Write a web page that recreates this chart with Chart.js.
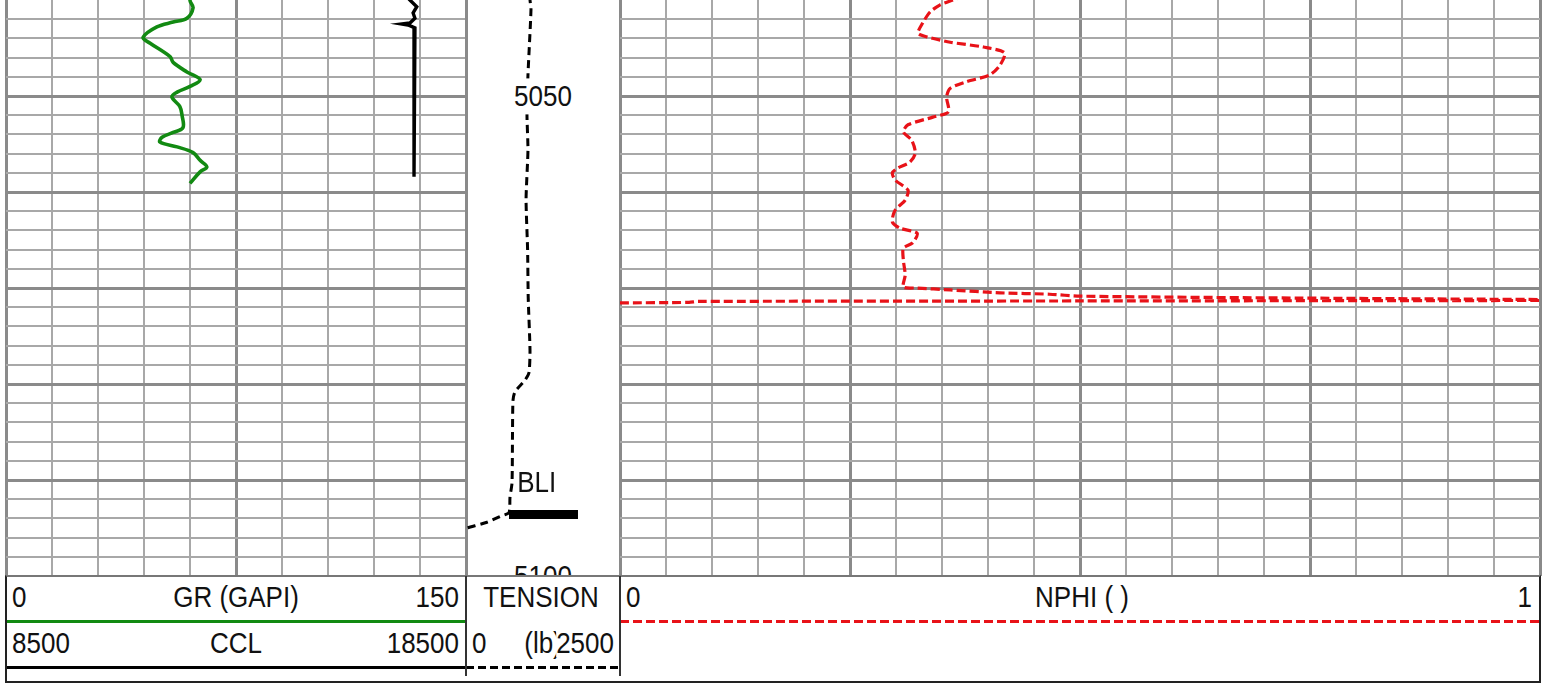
<!DOCTYPE html>
<html><head><meta charset="utf-8">
<script src="https://cdn.jsdelivr.net/npm/chart.js@4/dist/chart.umd.min.js"></script>
<style>
html,body{margin:0;padding:0;background:#fff;width:1553px;height:684px;overflow:hidden;font-family:"Liberation Sans",Arial,sans-serif;}
canvas{position:absolute;top:0;z-index:1}
.t{position:absolute;font-size:26px;line-height:26px;height:26px;white-space:nowrap;color:#111;z-index:5}
.lbl{position:absolute;font-size:26px;line-height:26px;white-space:nowrap;color:#111;z-index:2}
.box{position:absolute;left:5px;top:575px;width:1536px;height:108px;box-sizing:border-box;border:2px solid #222;border-top:2px solid #777;background:#fff;z-index:3}
.ln{position:absolute;z-index:4}
</style>
</head><body>
<canvas id="c1" width="466" height="579" style="left:3px"></canvas>
<canvas id="c2" width="160" height="579" style="left:463px"></canvas>
<canvas id="c3" width="926" height="579" style="left:617px"></canvas>
<div class="box"></div>
<script>
// ---------------- data ----------------
const depthTop = 5040, depthBottom = 5100;
const depthLabels = ['5050', '5100'];

const grDepth  = [5039.5, 5040.0, 5040.8, 5041.9, 5042.3, 5042.8, 5043.9, 5044.5, 5045.9, 5046.5, 5047.5, 5048.3, 5049.0, 5049.6, 5050.1, 5051.1, 5052.0, 5053.3, 5053.8, 5054.3, 5054.8, 5055.3, 5055.9, 5056.7, 5057.4, 5057.9, 5059.1];
const grValues = [62.0, 60.0, 61.0, 59.0, 54.5, 49.2, 44.7, 47.0, 53.5, 54.5, 59.0, 63.3, 60.0, 55.8, 54.1, 56.7, 57.4, 57.7, 54.5, 50.9, 50.2, 55.8, 61.0, 63.3, 65.5, 63.3, 60.0];

const cclDepth  = [5039.5, 5040.0, 5040.7, 5041.35, 5041.9, 5042.4, 5042.5, 5042.6, 5042.9, 5043.4, 5058.4];
const cclValues = [17350, 17280, 17430, 17350, 17390, 17280, 17110, 17240, 17390, 17370, 17370];

const tensionDepth  = [5039.5, 5040.0, 5041.0, 5047.8, 5052.0, 5055.6, 5060.8, 5066.0, 5071.0, 5076.5, 5078.8, 5079.6, 5080.8, 5081.7, 5085.0, 5090.3, 5091.8, 5093.4, 5093.8, 5094.4, 5095.0, 5095.2];
const tensionValues = [1040, 1039, 1055, 1006, 990, 1006, 975, 1000, 1010, 1039, 1023, 958, 795, 763, 755, 747, 714, 698, 552, 341, 16, -60];

const bliDepth = 5093.6;
const bliTension = [698, 1818];
const bliLabelDepth = 5090.2;
const bliLabelTension = 830;

const nphiDepth  = [5039.5, 5040.0, 5040.5, 5041.25, 5042.4, 5043.45, 5043.85, 5044.4, 5044.9, 5045.5, 5046.8, 5047.8, 5048.5, 5049.2, 5050.1, 5051.65, 5052.2, 5053.0, 5053.75, 5054.6, 5055.95, 5056.9, 5057.5, 5058.0, 5058.75, 5059.8, 5060.85, 5061.9, 5063.1, 5063.75, 5064.3, 5065.3, 5065.85, 5067.1, 5068.65, 5069.9, 5070.0, 5070.2, 5070.5, 5070.65, 5070.85, 5071.05, 5071.2,
                    null,
                    5071.55, 5071.5, 5071.4, 5071.35, 5071.3];
const nphiValues = [0.375, 0.362, 0.348, 0.337, 0.329, 0.324, 0.334, 0.359, 0.395, 0.418, 0.413, 0.402, 0.377, 0.359, 0.355, 0.357, 0.340, 0.313, 0.308, 0.317, 0.321, 0.315, 0.302, 0.296, 0.299, 0.313, 0.310, 0.299, 0.296, 0.304, 0.323, 0.318, 0.308, 0.308, 0.310, 0.308, 0.323, 0.359, 0.413, 0.467, 0.500, 0.739, 1.0,
                    null,
                    0.0, 0.075, 0.085, 0.5, 1.0];

const grGrid = [0, 15, 30, 45, 60, 75, 90, 105, 120, 135, 150];
const nphiGrid = [0, 0.05, 0.1, 0.15, 0.2, 0.25, 0.3, 0.35, 0.4, 0.45, 0.5, 0.55, 0.6, 0.65, 0.7, 0.75, 0.8, 0.85, 0.9, 0.95, 1];
const tensionGrid = [0, 2500];
const depthGrid = [];
for (let d = depthTop; d <= depthBottom; d += 2) depthGrid.push(d);

// ---------------- helpers ----------------
const pts = (xs, ys) => ys.map((y, i) => (y === null ? {x: null, y: null} : {x: xs[i], y: y}));
const MAJ = '#8a8a8a', MIN = '#a8a8a8';
function yScale(showGrid) {
  return {
    type: 'linear', reverse: true, min: depthTop, max: depthBottom,
    afterBuildTicks: s => { s.ticks = depthGrid.map(v => ({value: v})); },
    ticks: {display: false}, border: {display: false},
    grid: {
      display: showGrid,
      drawTicks: false,
      color: c => (c.tick.value === depthTop ? 'rgba(0,0,0,0)' : (c.tick.value % 10 === 0 ? MAJ : MIN)),
      lineWidth: c => (c.tick.value % 10 === 0 ? 3 : 2)
    }
  };
}
function xScale(min, max, grid, majorTest, edgeTest) {
  return {
    type: 'linear', position: 'top', min: min, max: max,
    afterBuildTicks: s => { s.ticks = grid.map(v => ({value: v})); },
    ticks: {display: false}, border: {display: false},
    grid: {
      drawTicks: false,
      color: c => (edgeTest(c.index) || majorTest(c.index) ? MAJ : MIN),
      lineWidth: c => (edgeTest(c.index) ? 3 : (majorTest(c.index) ? 3 : 2))
    }
  };
}
const common = {
  responsive: false, animation: false, events: [],
  layout: {padding: {left: 3, right: 3, top: 0, bottom: 3}},
  plugins: {legend: {display: false}, tooltip: {enabled: false}}
};
const lineDs = (o) => Object.assign({showLine: true, pointRadius: 0, pointHoverRadius: 0, spanGaps: false, fill: false}, o);

// ---------------- track 1 : GR + CCL ----------------
const ch1 = new Chart(document.getElementById('c1'), {
  type: 'scatter',
  data: {datasets: [
    lineDs({label: 'GR', data: pts(grValues, grDepth), xAxisID: 'x', borderColor: '#128a12', borderWidth: 3.6, tension: 0.35}),
    lineDs({label: 'CCL', data: pts(cclValues, cclDepth), xAxisID: 'x2', borderColor: '#000', borderWidth: 3.4, tension: 0})
  ]},
  options: Object.assign({}, common, {
    scales: {
      x: xScale(0, 150, grGrid, i => i === 5, i => i === 0 || i === 10),
      x2: {type: 'linear', position: 'top', min: 8500, max: 18500, display: false},
      y: yScale(true)
    }
  })
});

// ---------------- track 2 : depth + TENSION ----------------
const ch2 = new Chart(document.getElementById('c2'), {
  type: 'scatter',
  data: {datasets: [
    lineDs({label: 'TENSION', data: pts(tensionValues, tensionDepth), borderColor: '#000', borderWidth: 3, borderDash: [8, 5], tension: 0.2}),
    lineDs({label: 'BLI', data: bliTension.map(v => ({x: v, y: bliDepth})), borderColor: '#000', borderWidth: 9, borderCapStyle: 'butt'})
  ]},
  options: Object.assign({}, common, {
    scales: {
      x: xScale(0, 2500, tensionGrid, i => false, i => true),
      y: yScale(false)
    }
  })
});

// ---------------- track 3 : NPHI ----------------
const ch3 = new Chart(document.getElementById('c3'), {
  type: 'scatter',
  data: {datasets: [
    lineDs({label: 'NPHI', data: pts(nphiValues, nphiDepth), borderColor: 'rgb(232,18,24)', borderWidth: 3.2, borderDash: [9, 4], tension: 0.25})
  ]},
  options: Object.assign({}, common, {
    scales: {
      x: xScale(0, 1, nphiGrid, i => i % 5 === 0, i => i === 0 || i === 20),
      y: yScale(true)
    }
  })
});

// ---------------- labels inside depth track (placed through the scales) ----------------
function canvasLeft(ch) { return parseFloat(ch.canvas.style.left); }
const xMid2 = canvasLeft(ch2) + (ch2.chartArea.left + ch2.chartArea.right) / 2;
depthLabels.forEach(s => {
  const y = ch2.scales.y.getPixelForValue(parseFloat(s));
  const d = document.createElement('div');
  d.className = 'lbl';
  d.textContent = s;
  d.style.left = xMid2 + 'px';
  d.style.top = (y - 16) + 'px';
  d.style.padding = '3px 1px';
  d.style.background = '#fff';
  d.style.transform = 'translateX(-50%) scaleY(1.1)';
  document.body.appendChild(d);
});
{
  const d = document.createElement('div');
  d.className = 'lbl';
  d.textContent = 'BLI';
  d.style.left = (canvasLeft(ch2) + ch2.scales.x.getPixelForValue(bliLabelTension)) + 'px';
  d.style.top = (ch2.scales.y.getPixelForValue(bliLabelDepth) - 13) + 'px';
  d.style.transform = 'scaleY(1.1)';
  document.body.appendChild(d);
}

// ---------------- header ----------------
function txt(s, x, yc, align, bg) {
  const d = document.createElement('div');
  d.className = 't';
  d.textContent = s;
  d.style.left = x + 'px';
  d.style.top = (yc - 13) + 'px';
  let tr = '';
  if (align === 'center') tr = 'translateX(-50%) ';
  if (align === 'right') tr = 'translateX(-100%) ';
  d.style.transform = tr + 'scaleY(1.1)';
  if (bg) d.style.background = bg;
  document.body.appendChild(d);
}
function line(x, y, w, h, bg) {
  const d = document.createElement('div');
  d.className = 'ln';
  d.style.left = x + 'px'; d.style.top = y + 'px';
  d.style.width = w + 'px'; d.style.height = h + 'px';
  d.style.background = bg;
  document.body.appendChild(d);
}
const r1 = 597, r2 = 643;
txt('0', 12, r1, 'left');
txt('GR (GAPI)', 236, r1, 'center');
txt('150', 459, r1, 'right');
txt('8500', 12, r2, 'left');
txt('CCL', 236, r2, 'center');
txt('18500', 459, r2, 'right');
txt('TENSION', 541, r1, 'center');
txt('0', 472, r2, 'left');
txt('(lb)', 543, r2, 'center');
txt('2500', 614, r2, 'right', '#fff');
txt('0', 626, r1, 'left');
txt('NPHI ( )', 1082, r1, 'center');
txt('1', 1532, r1, 'right');

line(7, 620, 459, 3, '#118a11');
line(7, 666, 459, 3, '#000');
line(466, 666, 154, 3, 'repeating-linear-gradient(to right,#000 0 8px,transparent 8px 12px)');
line(620, 620, 920, 3, 'repeating-linear-gradient(to right,rgb(232,18,24) 0 9px,transparent 9px 13px)');
line(465, 576, 2, 100, '#333');
line(619, 576, 2, 100, '#333');
</script>
</body></html>
